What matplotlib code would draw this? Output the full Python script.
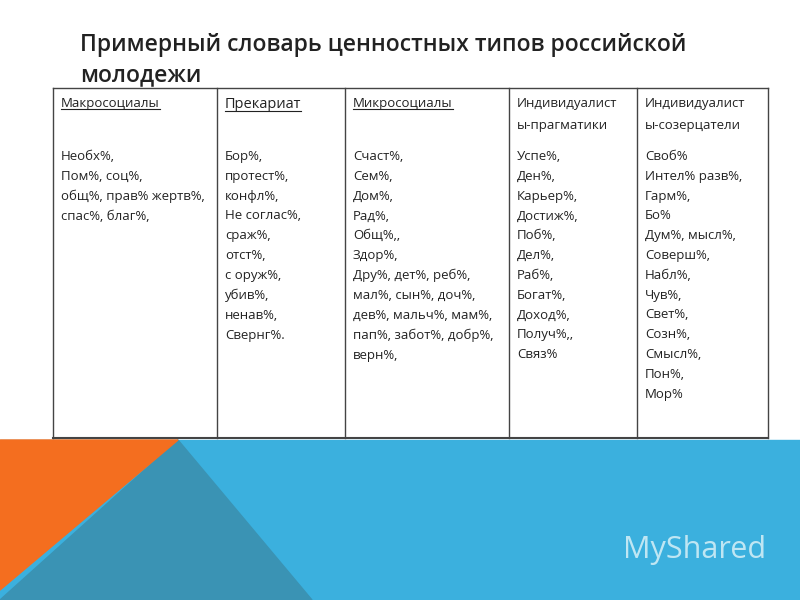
import matplotlib
matplotlib.use("Agg")
import matplotlib.pyplot as plt
from matplotlib.patches import Polygon, Rectangle

title = "Примерный словарь ценностных типов российской\nмолодежи"
headers = ["Макросоциалы", "Прекариат", "Микросоциалы",
           "Индивидуалист\nы-прагматики", "Индивидуалист\nы-созерцатели"]
underlined = [True, True, True, False, False]
cells = [
    "Необх%,\nПом%, соц%,\nобщ%, прав% жертв%,\nспас%, благ%,",
    "Бор%,\nпротест%,\nконфл%,\nНе соглас%,\nсраж%,\nотст%,\nс оруж%,\nубив%,\nненав%,\nСвернг%.",
    "Счаст%,\nСем%,\nДом%,\nРад%,\nОбщ%,,\nЗдор%,\nДру%, дет%, реб%,\nмал%, сын%, доч%,\nдев%, мальч%, мам%,\nпап%, забот%, добр%,\nверн%,",
    "Успе%,\nДен%,\nКарьер%,\nДостиж%,\nПоб%,\nДел%,\nРаб%,\nБогат%,\nДоход%,\nПолуч%,,\nСвяз%",
    "Своб%\nИнтел% разв%,\nГарм%,\nБо%\nДум%, мысл%,\nСоверш%,\nНабл%,\nЧув%,\nСвет%,\nСозн%,\nСмысл%,\nПон%,\nМор%",
]
col_edges = [53, 217, 345, 509, 637, 768]

plt.rcParams["font.family"] = "Open Sans"
fig = plt.figure(figsize=(8, 6), dpi=100)
ax = fig.add_axes([0, 0, 1, 1])
ax.set_xlim(0, 800)
ax.set_ylim(600, 0)
ax.axis("off")

# bottom decoration
ax.add_patch(Rectangle((0, 440), 800, 160, color="#3bb0de", zorder=0))
ax.add_patch(Polygon([(178, 440), (0, 600), (312, 600)], color="#3a93b4", zorder=1))
ax.add_patch(Polygon([(0, 440), (178, 440), (0, 590)], color="#f46e1f", zorder=2))
ax.text(695, 550, "MyShared", color="#bfe6f3", fontsize=22, ha="center", va="center")

ax.text(80, 60, title, fontsize=16.5, weight="semibold", color="#222222",
        va="center", ha="left", linespacing=1.35)

# table
top, bottom = 88, 438
ax.plot([col_edges[0], col_edges[-1]], [top, top], color="#444", lw=1)
ax.plot([col_edges[0], col_edges[-1]], [bottom, bottom], color="#444", lw=1.5)
for x in col_edges:
    ax.plot([x, x], [top, bottom], color="#444", lw=1)

texts = []
for i, (h, c) in enumerate(zip(headers, cells)):
    x = col_edges[i] + 8
    fs = 10.5 if i == 1 else 9.5
    t = ax.text(x, 97, h, fontsize=fs, va="top", ha="left", color="#222", linespacing=1.85)
    texts.append((t, underlined[i]))
    ax.text(x, 150, c, fontsize=9.5, va="top", ha="left", color="#222", linespacing=1.68)

fig.canvas.draw()
r = fig.canvas.get_renderer()
inv = ax.transData.inverted()
for t, u in texts:
    if u:
        bb = t.get_window_extent(r)
        (x0, y0), (x1, y1) = inv.transform([(bb.x0, bb.y0), (bb.x1, bb.y1)])
        ax.plot([x0, x1], [y0 - 1, y0 - 1], color="#222", lw=0.8)

fig.savefig("out.png", dpi=100)
